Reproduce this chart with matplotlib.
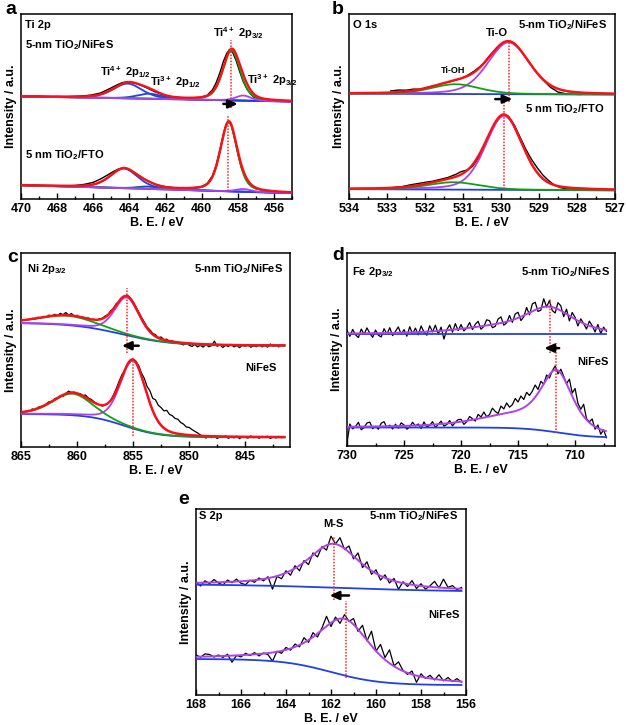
import numpy as np
import matplotlib
matplotlib.use('Agg')
import matplotlib.pyplot as plt
from matplotlib.ticker import MultipleLocator

plt.rcParams['font.family'] = ['Liberation Sans', 'DejaVu Sans']
plt.rcParams['font.weight'] = 'bold'
plt.rcParams['mathtext.fontset'] = 'custom'
plt.rcParams['mathtext.rm'] = 'Liberation Sans:bold'
plt.rcParams['mathtext.bf'] = 'Liberation Sans:bold'
plt.rcParams['mathtext.it'] = 'Liberation Sans:bold'
plt.rcParams['mathtext.default'] = 'bf'

# ---------------- colours ----------------
C_BLACK = '#000000'
C_RED = '#ff1010'
C_GREEN = '#12a012'
C_BLUE = '#2040e8'
C_PURPLE = '#b040ec'

# ---------------- panel a : Ti 2p ----------------
a_top_x = [470.0, 469.5, 469.0, 468.5, 468.0, 467.5, 467.0, 466.5, 466.1, 465.6, 465.1, 464.7, 464.4, 464.2,
           463.9, 463.6, 463.3, 463.0, 462.6, 462.1, 461.6, 461.1, 460.6, 460.1, 459.7, 459.4, 459.2, 459.0,
           458.8, 458.6, 458.47, 458.3, 458.1, 457.9, 457.7, 457.5, 457.3, 457.1, 456.6, 456.1, 455.6, 455.1]
a_top_y = [55.6, 55.3, 55.5, 55.2, 55.4, 55.3, 55.5, 55.8, 56.2, 57.3, 59.6, 61.6, 62.9, 63.2,
           63.0, 62.3, 61.2, 59.9, 58.0, 56.2, 55.2, 54.8, 54.7, 54.9, 56.0, 59.0, 62.8, 68.0,
           74.3, 79.0, 80.6, 79.6, 75.0, 69.0, 63.5, 59.5, 56.8, 55.0, 53.7, 53.2, 53.0, 52.9]
a_bot_x = [470.0, 469.5, 469.0, 468.5, 468.0, 467.5, 467.0, 466.5, 466.0, 465.6, 465.2, 464.9, 464.6, 464.35,
           464.1, 463.8, 463.5, 463.2, 462.9, 462.5, 462.0, 461.5, 461.0, 460.5, 460.0, 459.7, 459.4, 459.2,
           459.0, 458.8, 458.65, 458.5, 458.35, 458.2, 458.0, 457.8, 457.6, 457.4, 457.2, 457.0, 456.5, 456.0,
           455.5, 455.0]
a_bot_y = [7.5, 7.2, 7.0, 6.8, 6.9, 7.1, 7.3, 7.9, 9.0, 10.8, 13.0, 14.8, 16.2, 16.8,
           16.3, 14.8, 12.9, 11.0, 9.3, 7.7, 6.6, 6.1, 5.9, 6.0, 6.7, 8.3, 12.6, 18.2,
           26.2, 35.0, 40.2, 42.0, 39.5, 33.5, 24.5, 16.8, 11.6, 8.4, 6.6, 5.6, 4.5, 4.0,
           3.7, 3.5]
# fitted components: centre (eV), height (a.u.), FWHM (eV)
a_top_centers = [464.1, 462.9, 458.35, 457.7]
a_top_heights = [8.0, 2.8, 27.0, 2.8]
a_top_fwhm = [1.9, 1.6, 1.15, 1.0]
a_bot_centers = [464.3, 463.0, 458.5, 457.7]
a_bot_heights = [10.6, 1.3, 37.5, 1.5]
a_bot_fwhm = [1.8, 1.4, 1.1, 1.0]
a_comp_colors = [C_BLUE, C_BLUE, C_GREEN, C_PURPLE]
a_eta = 0.4
a_top_bg = [50.9, 57.2, 462.5, 8.0]
a_bot_bg = [0.48, 10.11, 462.5, 8.0]
a_peak_marks = [458.4, 458.55]
a_shift = [458.8, 458.0]

# ---------------- panel b : O 1s ----------------
b_top_x = [532.9, 532.7, 532.5, 532.3, 532.1, 531.9, 531.7, 531.5, 531.3, 531.1, 530.9, 530.7, 530.5, 530.3,
           530.1, 529.95, 529.8, 529.65, 529.5, 529.3, 529.1, 528.9, 528.7, 528.5, 528.3, 528.1, 527.9]
b_top_y = [58.4, 58.9, 58.8, 59.4, 59.3, 60.6, 61.4, 62.7, 63.6, 64.8, 66.6, 69.2, 72.4, 77.5,
           82.0, 84.6, 85.6, 84.2, 80.8, 75.2, 69.3, 64.5, 60.4, 57.8, 56.9, 56.6, 56.5]
b_bot_x = [533.0, 532.8, 532.6, 532.4, 532.2, 532.0, 531.8, 531.6, 531.4, 531.2, 531.05, 530.9, 530.75, 530.6,
           530.45, 530.3, 530.15, 530.0, 529.92, 529.8, 529.65, 529.5, 529.35, 529.2, 529.05, 528.9, 528.75,
           528.6, 528.45, 528.3, 528.1, 527.9, 527.75]
b_bot_y = [5.8, 6.3, 6.7, 7.6, 8.3, 9.0, 9.6, 10.6, 11.6, 13.2, 14.8, 15.6, 17.6, 22.0,
           28.5, 35.0, 41.0, 45.0, 45.9, 44.6, 40.0, 33.5, 27.0, 21.5, 17.0, 13.0, 10.0,
           7.6, 6.2, 5.6, 5.3, 5.1, 5.2]
b_top_centers = [529.8, 531.2]
b_top_heights = [28.0, 5.3]
b_top_fwhm = [1.3, 1.5]
b_bot_centers = [529.92, 531.25]
b_bot_heights = [40.0, 4.0]
b_bot_fwhm = [1.15, 1.6]
b_comp_colors = [C_PURPLE, C_GREEN]
b_eta = 0.3
b_top_bg = [55.9, 57.5, 530.5, 6.0]
b_bot_bg = [3.85, 6.15, 530.5, 6.0]
b_peak_marks = [529.8, 529.92]
b_shift = [530.15, 529.7]

# ---------------- panel c : Ni 2p3/2 ----------------
c_range = [864.0, 841.5]
c_top_y = [66.3, 65.8, 66.9, 66.4, 67.3, 66.8, 68.0, 67.5, 68.4, 67.6,
           68.9, 68.2, 69.3, 68.0, 68.8, 67.4, 67.9, 66.6, 67.0, 66.1,
           66.5, 65.6, 65.9, 65.2, 66.1, 66.3, 67.5, 68.2, 70.2, 71.4,
           73.9, 74.8, 77.1, 77.3, 78.2, 76.9, 74.9, 72.2, 69.6, 66.8,
           64.4, 61.8, 60.4, 58.6, 57.9, 56.4, 56.7, 55.3, 55.6, 54.4,
           54.8, 53.6, 54.1, 53.2, 52.6, 53.4, 52.5, 51.8, 52.9, 51.6,
           52.4, 51.5, 52.8, 51.7, 52.2, 54.6, 51.9, 52.6, 51.3, 52.4,
           51.8, 52.9, 51.6, 52.3, 51.2, 52.5, 51.9, 52.7, 51.4, 52.2,
           51.7, 52.8, 51.6, 52.3, 51.5, 53.1, 51.8, 52.4, 51.6, 52.5,
           52.0]
c_bot_y = [19.6, 19.2, 20.4, 20.9, 21.3, 22.2, 23.4, 23.0, 24.9, 25.3,
           26.4, 26.0, 27.6, 28.8, 28.1, 28.3, 27.2, 27.6, 26.5, 26.8,
           25.3, 24.6, 23.4, 22.5, 21.7, 21.1, 21.6, 22.3, 23.9, 26.8,
           30.1, 33.8, 37.2, 39.6, 42.0, 43.8, 45.3, 44.2, 42.0, 38.1,
           35.4, 31.2, 29.0, 25.1, 24.3, 21.5, 20.3, 18.6, 18.9, 16.8,
           16.1, 14.7, 14.3, 12.6, 11.8, 10.3, 10.1, 9.0, 8.1, 7.3,
           6.2, 5.4, 4.6, 5.5, 4.8, 5.6, 4.4, 5.3, 4.9, 5.8,
           4.5, 5.2, 4.7, 5.6, 4.3, 5.4, 5.0, 4.6, 5.7, 4.8,
           5.3, 4.5, 5.5, 4.9, 5.6, 4.4, 5.2, 4.7, 5.5, 4.8,
           5.1]
c_top_centers = [855.55, 860.8]
c_top_heights = [19.5, 4.8]
c_top_fwhm = [2.6, 6.0]
c_bot_centers = [855.0, 860.4]
c_bot_heights = [35.0, 11.1]
c_bot_fwhm = [2.7, 4.2]
c_comp_colors = [C_PURPLE, C_GREEN]
c_eta = 0.3
c_top_bg = [52.3, 64.0, 856.0, 2.2]
c_bot_bg = [5.0, 17.0, 855.8, 1.6]
c_peak_marks = [855.5, 855.0]
c_shift = [854.5, 856.0]

# ---------------- panel d : Fe 2p3/2 ----------------
d_range = [730.0, 707.25]
d_top_y = [59.9, 56.8, 60.4, 57.6, 56.2, 60.6, 57.9, 61.2, 58.4, 56.3,
           60.1, 57.4, 56.5, 60.8, 58.0, 61.3, 57.2, 59.4, 61.7, 57.9,
           60.3, 56.9, 61.8, 58.2, 61.1, 57.6, 62.2, 59.0, 57.4, 62.3,
           59.1, 62.6, 58.0, 61.6, 55.4, 60.2, 62.8, 59.0, 63.4, 59.8,
           62.9, 59.6, 61.2, 64.0, 60.3, 63.1, 64.6, 60.5, 62.0, 65.4,
           64.9, 61.3, 62.0, 65.8, 66.9, 62.6, 63.8, 67.6, 64.1, 68.4,
           69.3, 65.0, 66.9, 71.8, 68.0, 73.6, 74.5, 69.7, 70.4, 76.3,
           72.0, 75.4, 70.2, 68.9, 74.3, 72.6, 67.0, 70.9, 64.8, 69.2,
           66.6, 62.2, 65.9, 63.4, 60.6, 64.7, 62.3, 59.1, 63.0, 58.2,
           61.6, 59.4]
d_bot_y = [1.5, 11.4, 8.9, 10.1, 12.3, 8.4, 9.6, 11.9, 12.4, 9.0,
           10.2, 8.7, 11.8, 12.6, 9.5, 10.8, 8.8, 11.3, 9.2, 12.0,
           10.9, 8.7, 9.9, 12.3, 10.4, 11.4, 9.0, 12.5, 9.8, 10.7,
           12.6, 9.6, 11.2, 12.9, 10.3, 11.1, 13.2, 10.4, 12.3, 13.7,
           13.8, 11.2, 12.6, 15.3, 14.1, 12.9, 16.4, 15.0, 17.6, 15.1,
           16.3, 19.6, 17.9, 16.8, 20.7, 19.2, 22.3, 20.1, 21.4, 24.6,
           22.8, 25.9, 24.1, 27.8, 26.2, 28.4, 31.6, 29.3, 33.5, 32.0,
           36.8, 35.2, 38.9, 41.5, 37.4, 39.8, 36.1, 32.3, 34.6, 27.4,
           29.8, 22.1, 19.0, 21.6, 14.2, 12.5, 14.0, 8.7, 10.9, 6.1,
           8.4, 4.3]
d_top_centers = [712.3, 717.0]
d_top_heights = [13.0, 3.0]
d_top_fwhm = [5.0, 8.0]
d_bot_centers = [711.6, 715.5]
d_bot_heights = [29.5, 5.5]
d_bot_fwhm = [3.3, 8.0]
d_eta = 0.6
d_top_bg = [58.0, 58.0, 720.0, 1.0]
d_bot_bg = [4.3, 9.6, 711.5, 1.5]
d_peak_marks = [712.2, 711.7]
d_shift = [711.4, 712.7]

# ---------------- panel e : S 2p ----------------
e_range = [168.0, 156.2]
e_top_y = [60.8, 58.6, 61.4, 59.9, 62.1, 60.2, 59.1, 61.8, 60.4, 62.3,
           60.1, 59.3, 61.7, 60.6, 62.9, 61.4, 63.6, 56.9, 63.8, 62.5,
           66.8, 64.4, 69.5, 66.8, 72.3, 70.1, 76.4, 74.2, 79.8, 77.9,
           85.4, 81.2, 84.6, 78.3, 80.1, 73.2, 76.4, 68.5, 71.6, 64.9,
           67.3, 61.8, 64.6, 60.2, 62.7, 56.8, 60.9, 58.3, 61.5, 57.2,
           59.8, 56.9, 58.7, 61.1, 57.6, 62.3, 57.9, 58.8, 56.6, 57.8]
e_bot_y = [21.6, 20.3, 22.1, 21.8, 20.4, 21.5, 20.2, 21.9, 17.6, 21.3,
           20.5, 22.4, 21.2, 22.8, 21.0, 22.6, 21.7, 18.2, 23.5, 22.4,
           25.6, 24.1, 27.4, 25.9, 30.8, 28.3, 33.5, 31.2, 36.1, 42.3,
           36.8, 41.9, 38.5, 43.2, 39.6, 41.1, 34.2, 37.5, 29.1, 34.3,
           23.6, 27.2, 20.1, 24.3, 15.7, 17.8, 13.2, 11.1, 12.9, 6.8,
           11.4, 8.9, 10.6, 8.1, 10.9, 7.6, 9.4, 7.2, 8.8, 6.9]
e_top_centers = [161.9]
e_top_heights = [23.6]
e_top_fwhm = [2.9]
e_bot_centers = [161.4]
e_bot_heights = [30.5]
e_bot_fwhm = [3.0]
e_eta = 0.8
e_top_bg = [55.5, 59.6, 161.5, 2.5]
e_bot_bg = [5.3, 19.4, 162.0, 1.1]
e_peak_marks = [161.85, 161.35]
e_shift = [161.2, 162.06]


def pvoigt(x, c, h, w, eta):
    r = (x - c) / w
    g = np.exp(-4 * np.log(2) * r ** 2)
    lo = 1.0 / (1 + 4 * r ** 2)
    return h * ((1 - eta) * g + eta * lo)


def shirley_like(x, p):
    lo, hi, c, w = p
    return lo + (hi - lo) / (1 + np.exp(-(x - c) / w))


W, H = 626, 725
fig = plt.figure(figsize=(W / 100, H / 100), dpi=100)


def make_ax(l, r, t, b):
    return fig.add_axes([l / W, 1 - b / H, (r - l) / W, (b - t) / H])


def style(ax, xlim, major, minor):
    ax.set_xlim(*xlim)
    ax.set_ylim(0, 100)
    ax.set_yticks([])
    ax.xaxis.set_major_locator(MultipleLocator(major))
    ax.xaxis.set_minor_locator(MultipleLocator(minor))
    ax.tick_params(axis='x', which='both', direction='in', top=False, width=1.0, labelsize=9, pad=3)
    ax.tick_params(axis='x', which='major', length=4)
    ax.tick_params(axis='x', which='minor', length=2.5)
    for lab in ax.get_xticklabels():
        lab.set_fontweight('bold')
    for s in ax.spines.values():
        s.set_linewidth(1.1)
    ax.set_xlabel('B. E. / eV', fontsize=9, fontweight='bold', labelpad=1)
    ax.set_ylabel('Intensity / a.u.', fontsize=9, fontweight='bold', labelpad=3)


def draw_fit(ax, xr, bg, centers, heights, fwhm, colors, eta, show_components=True):
    x = np.linspace(xr[0], xr[1], 800)
    base = shirley_like(x, bg)
    total = base.copy()
    comps = []
    for c, h, w in zip(centers, heights, fwhm):
        p = pvoigt(x, c, h, w, eta)
        comps.append(p)
        total += p
    ax.plot(x, base, color=C_BLUE, lw=1.3, zorder=3)
    if show_components:
        for p, col in zip(comps, colors):
            ax.plot(x, base + p, color=col, lw=1.3, zorder=4)
    return x, total


def marks(ax, xs, spans, shift, yarrow):
    for xv, (y0, y1) in zip(xs, spans):
        ax.plot([xv, xv], [y0, y1], color='#ff2020', lw=1.1, ls=(0, (1, 1)), zorder=6)
    ax.annotate('', xy=(shift[1], yarrow), xytext=(shift[0], yarrow),
                arrowprops=dict(arrowstyle='-|>,head_length=0.55,head_width=0.25',
                                color='k', lw=1.8, shrinkA=0, shrinkB=0), zorder=7)


TXT = dict(fontsize=8, fontweight='bold')

# ===== a =====
ax = make_ax(21, 292, 14, 199)
style(ax, (470, 455), 2, 1)
ax.plot(a_top_x, a_top_y, color=C_BLACK, lw=1.0, zorder=2)
ax.plot(a_bot_x, a_bot_y, color=C_BLACK, lw=1.0, zorder=2)
x, tot = draw_fit(ax, (470, 455), a_top_bg, a_top_centers, a_top_heights, a_top_fwhm, a_comp_colors, a_eta)
ax.plot(x, tot, color=C_RED, lw=1.7, zorder=5)
x, tot = draw_fit(ax, (470, 455), a_bot_bg, a_bot_centers, a_bot_heights, a_bot_fwhm, a_comp_colors, a_eta)
ax.plot(x, tot, color=C_RED, lw=1.7, zorder=5)
marks(ax, a_peak_marks, [(49.1, 86.0), (4.1, 44.6)], a_shift, 51.4)
ax.text(0.015, 0.94, 'Ti 2p', transform=ax.transAxes, va='center', ha='left', **TXT)
ax.text(0.015, 0.83, r'5-nm TiO$_2$/NiFeS', transform=ax.transAxes, va='center', ha='left', **TXT)
ax.text(0.29, 0.686, r'Ti$^{4+}$ 2p$_{1/2}$', transform=ax.transAxes, va='center', ha='left', **TXT)
ax.text(0.476, 0.632, r'Ti$^{3+}$ 2p$_{1/2}$', transform=ax.transAxes, va='center', ha='left', **TXT)
ax.text(0.709, 0.895, r'Ti$^{4+}$ 2p$_{3/2}$', transform=ax.transAxes, va='center', ha='left', **TXT)
ax.text(0.834, 0.643, r'Ti$^{3+}$ 2p$_{3/2}$', transform=ax.transAxes, va='center', ha='left', **TXT)
ax.text(0.015, 0.238, r'5 nm TiO$_2$/FTO', transform=ax.transAxes, va='center', ha='left', **TXT)

# ===== b =====
ax = make_ax(349, 615, 14, 199)
style(ax, (534, 527), 1, 0.5)
ax.plot(b_top_x, b_top_y, color=C_BLACK, lw=1.0, zorder=2)
ax.plot(b_bot_x, b_bot_y, color=C_BLACK, lw=1.0, zorder=2)
x, tot = draw_fit(ax, (534, 527), b_top_bg, b_top_centers, b_top_heights, b_top_fwhm, b_comp_colors, b_eta)
ax.plot(x, tot, color=C_RED, lw=1.7, zorder=5)
x, tot = draw_fit(ax, (534, 527), b_bot_bg, b_bot_centers, b_bot_heights, b_bot_fwhm, b_comp_colors, b_eta)
ax.plot(x, tot, color=C_RED, lw=1.7, zorder=5)
marks(ax, b_peak_marks, [(52.7, 84.2), (5.4, 53.6)], b_shift, 54.0)
ax.text(0.015, 0.94, 'O 1s', transform=ax.transAxes, va='center', ha='left', **TXT)
ax.text(0.97, 0.94, r'5-nm TiO$_2$/NiFeS', transform=ax.transAxes, va='center', ha='right', **TXT)
ax.text(0.555, 0.895, 'Ti-O', transform=ax.transAxes, va='center', ha='center', **TXT)
ax.text(0.39, 0.696, 'Ti-OH', transform=ax.transAxes, va='center', ha='center', fontsize=6.5, fontweight='bold')
ax.text(0.96, 0.486, r'5 nm TiO$_2$/FTO', transform=ax.transAxes, va='center', ha='right', **TXT)

# ===== c =====
ax = make_ax(21, 290, 253, 447)
style(ax, (865, 841), 5, 2.5)
xc_t = np.linspace(c_range[0], c_range[1], len(c_top_y))
xc_b = np.linspace(c_range[0], c_range[1], len(c_bot_y))
ax.plot(xc_t, c_top_y, color=C_BLACK, lw=0.9, zorder=2)
ax.plot(xc_b, c_bot_y, color=C_BLACK, lw=0.9, zorder=2)
x, tot = draw_fit(ax, (865, 841.5), c_top_bg, c_top_centers, c_top_heights, c_top_fwhm, c_comp_colors, c_eta)
ax.plot(x, tot, color=C_RED, lw=1.7, zorder=5)
x, tot = draw_fit(ax, (865, 841.5), c_bot_bg, c_bot_centers, c_bot_heights, c_bot_fwhm, c_comp_colors, c_eta)
ax.plot(x, tot, color=C_RED, lw=1.7, zorder=5)
marks(ax, c_peak_marks, [(48.5, 82.0), (5.5, 45.9)], c_shift, 52.2)
ax.text(0.022, 0.918, r'Ni 2p$_{3/2}$', transform=ax.transAxes, va='center', ha='left', **TXT)
ax.text(0.974, 0.918, r'5-nm TiO$_2$/NiFeS', transform=ax.transAxes, va='center', ha='right', **TXT)
ax.text(0.952, 0.407, 'NiFeS', transform=ax.transAxes, va='center', ha='right', **TXT)

# ===== d =====
ax = make_ax(347, 615, 253, 446)
style(ax, (730, 706.5), 5, 2.5)
xd_t = np.linspace(d_range[0], d_range[1], len(d_top_y))
xd_b = np.linspace(d_range[0], d_range[1], len(d_bot_y))
ax.plot(xd_t, d_top_y, color=C_BLACK, lw=0.9, zorder=2)
ax.plot(xd_b, d_bot_y, color=C_BLACK, lw=0.9, zorder=2)
x, tot = draw_fit(ax, (730, 707.3), d_top_bg, d_top_centers, d_top_heights, d_top_fwhm, [], d_eta, False)
ax.plot(x, tot, color=C_PURPLE, lw=1.4, zorder=5)
x, tot = draw_fit(ax, (730, 707.3), d_bot_bg, d_bot_centers, d_bot_heights, d_bot_fwhm, [], d_eta, False)
ax.plot(x, tot, color=C_PURPLE, lw=1.4, zorder=5)
marks(ax, d_peak_marks, [(48.0, 76.6), (6.9, 53.6)], d_shift, 50.7)
ax.text(0.019, 0.90, r'Fe 2p$_{3/2}$', transform=ax.transAxes, va='center', ha='left', **TXT)
ax.text(0.98, 0.90, r'5-nm TiO$_2$/NiFeS', transform=ax.transAxes, va='center', ha='right', **TXT)
ax.text(0.975, 0.435, 'NiFeS', transform=ax.transAxes, va='center', ha='right', **TXT)

# ===== e =====
ax = make_ax(196, 466, 509, 695)
style(ax, (168, 156), 2, 1)
xe_t = np.linspace(e_range[0], e_range[1], len(e_top_y))
xe_b = np.linspace(e_range[0], e_range[1], len(e_bot_y))
ax.plot(xe_t, e_top_y, color=C_BLACK, lw=0.9, zorder=2)
ax.plot(xe_b, e_bot_y, color=C_BLACK, lw=0.9, zorder=2)
x, tot = draw_fit(ax, (168, 156.2), e_top_bg, e_top_centers, e_top_heights, e_top_fwhm, [], e_eta, False)
ax.plot(x, tot, color=C_PURPLE, lw=1.4, zorder=5)
x, tot = draw_fit(ax, (168, 156.2), e_bot_bg, e_bot_centers, e_bot_heights, e_bot_fwhm, [], e_eta, False)
ax.plot(x, tot, color=C_PURPLE, lw=1.4, zorder=5)
marks(ax, e_peak_marks, [(51.2, 85.3), (9.0, 50.3)], e_shift, 53.5)
ax.text(0.01, 0.96, 'S 2p', transform=ax.transAxes, va='center', ha='left', **TXT)
ax.text(0.51, 0.92, 'M-S', transform=ax.transAxes, va='center', ha='center', **TXT)
ax.text(0.97, 0.96, r'5-nm TiO$_2$/NiFeS', transform=ax.transAxes, va='center', ha='right', **TXT)
ax.text(0.975, 0.43, 'NiFeS', transform=ax.transAxes, va='center', ha='right', **TXT)

# panel letters
for lab, px, py in [('a', 11, 10), ('b', 338, 9), ('c', 13, 257), ('d', 338, 256), ('e', 184, 499)]:
    fig.text(px / W, 1 - py / H, lab, fontsize=14, fontweight='bold', ha='center', va='center')

fig.savefig('out.png', dpi=100)
